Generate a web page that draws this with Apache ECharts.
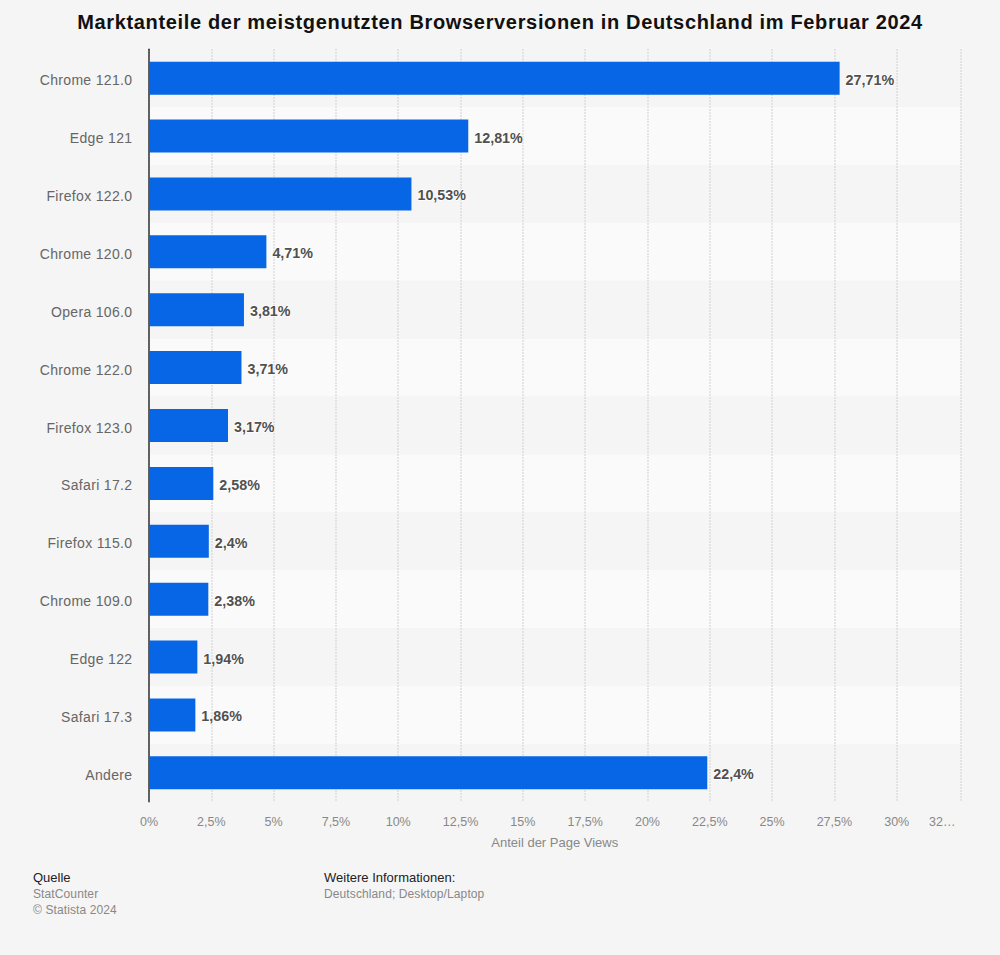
<!DOCTYPE html>
<html><head><meta charset="utf-8">
<style>html,body{margin:0;padding:0;background:#f5f5f5}#c{width:1000px;height:955px}
#c text[style*="20px"]{letter-spacing:.66px}
#c text[style*=" 14px"]:not([style*="bold"]){letter-spacing:.33px}
#c text[style*=" 12px"]{letter-spacing:.11px}
</style>
<script src="https://cdn.jsdelivr.net/npm/echarts@6/dist/echarts.min.js"></script>
</head><body><div id="c"></div>
<script>
const chartTitle = 'Marktanteile der meistgenutzten Browserversionen in Deutschland im Februar 2024';
const categories = ['Chrome 121.0','Edge 121','Firefox 122.0','Chrome 120.0','Opera 106.0','Chrome 122.0','Firefox 123.0','Safari 17.2','Firefox 115.0','Chrome 109.0','Edge 122','Safari 17.3','Andere'];
const shares = [27.71,12.81,10.53,4.71,3.81,3.71,3.17,2.58,2.4,2.38,1.94,1.86,22.4];
const tickValues = [0,2.5,5,7.5,10,12.5,15,17.5,20,22.5,25,27.5,30,32.56];
const axisName = 'Anteil der Page Views';
const font = '"Liberation Sans", Arial, sans-serif';
const de = v => String(v).replace('.', ',') + '%';
const chart = echarts.init(document.getElementById('c'), null, {renderer:'svg'});
const footer = (text, left, top, color, size) => ({text, left, top, padding:0, textStyle:{fontFamily:font,fontSize:size,fontWeight:'normal',color,lineHeight:14}});
chart.setOption({
  animation:false,
  backgroundColor:'#f5f5f5',
  title:[
    {text:chartTitle,left:'center',top:12,padding:0,textStyle:{fontFamily:font,fontSize:20,fontWeight:'bold',color:'#111'}},
    footer('Quelle',33,870,'#222',13),
    footer('StatCounter',33,887,'#888',12),
    footer('© Statista 2024',33,903,'#888',12),
    footer('Weitere Informationen:',324,870,'#222',13),
    footer('Deutschland; Desktop/Laptop',324,887,'#888',12)
  ],
  grid:{left:149,top:49.2,width:811.5,height:752.6,containLabel:false},
  xAxis:{
    type:'value',min:0,max:32.56,interval:2.5,position:'bottom',
    axisLine:{show:false},axisTick:{show:false,customValues:tickValues},
    splitLine:{show:true,showMinLine:true,showMaxLine:true,lineStyle:{color:'#d4d4d4',type:[1.5,1.5],width:1.5}},
    axisLabel:{customValues:tickValues,fontFamily:font,fontSize:12.5,color:'#888',margin:14,showMaxLabel:true,alignMaxLabel:'right',
      formatter:v=>v>=32?'{last|32…}':de(v),
      rich:{last:{fontFamily:font,fontSize:12.5,color:'#888',padding:[0,5,0,0]}}},
    name:axisName,nameLocation:'middle',nameGap:34,
    nameTextStyle:{fontFamily:font,fontSize:13,color:'#888'}
  },
  yAxis:{
    type:'category',inverse:true,data:categories,
    axisLine:{show:true,lineStyle:{color:'#333',width:1.5}},
    axisTick:{show:false},
    axisLabel:{fontFamily:font,fontSize:14,color:'#666',margin:16.6,verticalAlign:'top',lineHeight:4},
    splitLine:{show:false},
    splitArea:{show:true,areaStyle:{color:['#f5f5f5','#fafafa']}}
  },
  series:[{
    type:'bar',data:shares,barWidth:33,
    itemStyle:{color:'#0666e6'},
    label:{show:true,position:'right',distance:6,offset:[0,1.5],fontFamily:font,fontSize:14.3,fontWeight:'bold',color:'#505050',
      textBorderColor:'#fff',textBorderWidth:1.5,formatter:p=>de(p.value)}
  }]
});
</script></body></html>
